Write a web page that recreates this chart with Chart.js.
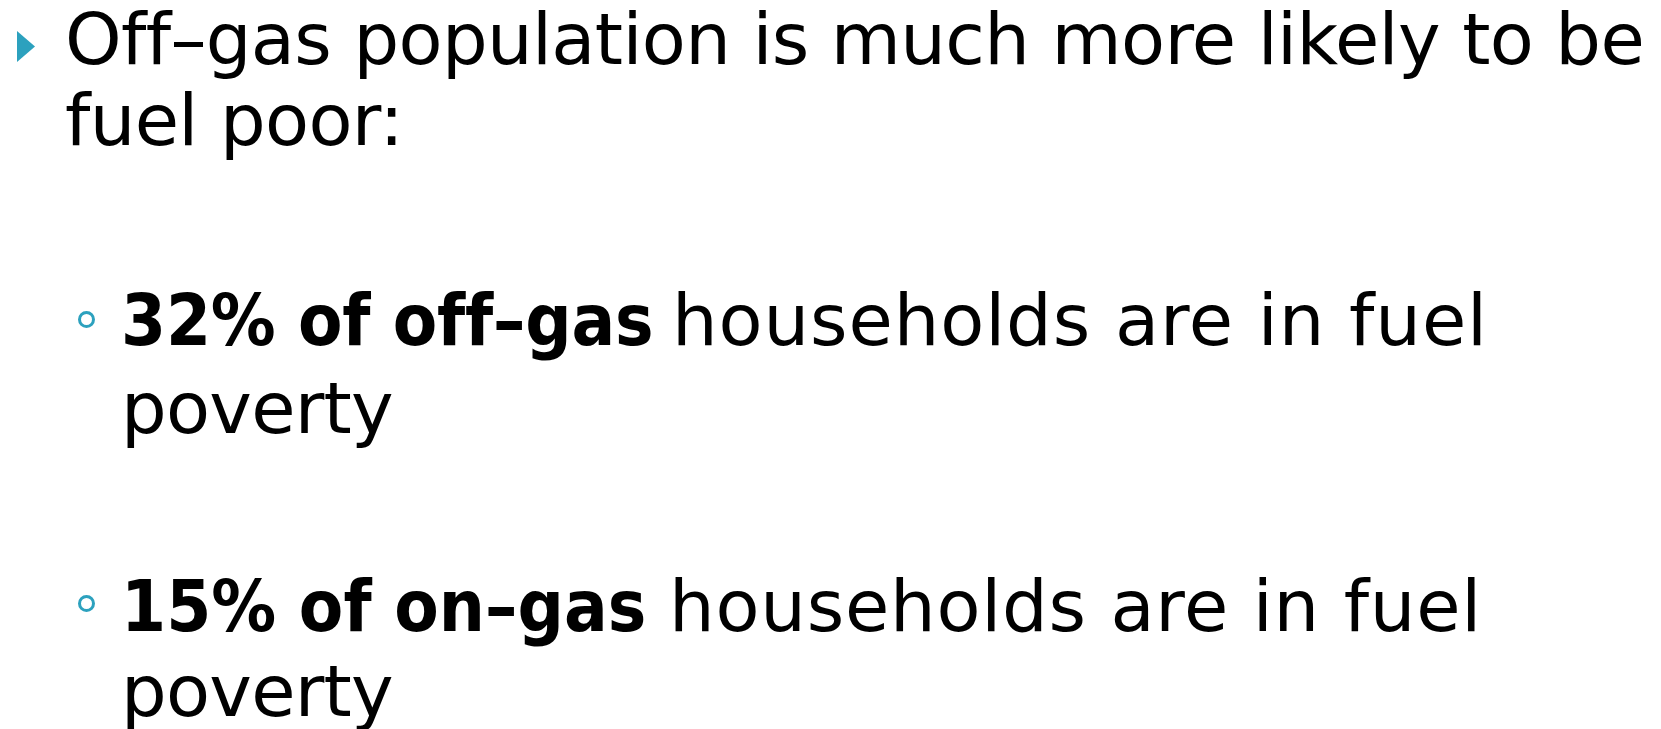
<!DOCTYPE html>
<html>
<head>
<meta charset="utf-8">
<script src="https://cdn.jsdelivr.net/npm/chart.js@4.4.1/dist/chart.umd.min.js"></script>
<style>
  html, body { margin: 0; padding: 0; background: #ffffff; width: 1661px; height: 729px; overflow: hidden; }
  #slide { position: relative; width: 1661px; height: 729px; font-family: "DejaVu Sans", sans-serif; color: #000; }
  .seg { position: absolute; white-space: pre; font-size: 72px; line-height: 1; }
  .seg.b { font-family: "DejaVu Sans Condensed", "DejaVu Sans", sans-serif; font-stretch: semi-condensed; font-weight: 700; }
  .mark { display: inline-block; width: 0; height: 0; vertical-align: baseline; }
  .tri { position: absolute; background: #2CA1BE; clip-path: polygon(0 0, 100% 50%, 0 100%); }
  .ring { position: absolute; box-sizing: border-box; border: 3px solid #2CA1BE; border-radius: 50%; }
  #chartBox { position: absolute; left: 0; top: 0; width: 20px; height: 20px; visibility: hidden; }
</style>
</head>
<body>
<div id="slide">
  <div id="chartBox"><canvas id="chart" width="20" height="20"></canvas></div>
</div>
<script>
// ---- data ----
const categories = ["off–gas", "on–gas"];
const fuelPovertyPct = [32, 15];
const headingLines = ["Off–gas population is much more likely to be", "fuel poor:"];
const tailText = "households are in fuel";
const tailLine2 = "poverty";

// ---- Chart.js instance holding the values (the slide itself is text only) ----
new Chart(document.getElementById("chart"), {
  type: "bar",
  data: { labels: categories, datasets: [{ data: fuelPovertyPct, backgroundColor: "#2CA1BE" }] },
  options: { responsive: false, animation: false, plugins: { legend: { display: false }, tooltip: { enabled: false } } }
});

// ---- slide layout ----
const slide = document.getElementById("slide");
const segs = [
  { t: headingLines[0], b: false, left: 65, base: 64, fit: 1578, key: "h" },
  { t: headingLines[1], b: false, left: 65, base: 145, use: "h" },
  { t: fuelPovertyPct[0] + "% of " + categories[0] + " ", b: true, left: 121, base: 345, fit: 551 },
  { t: tailText, b: false, left: 672, base: 345, fit: 816 },
  { t: tailLine2, b: false, left: 121, base: 433, fit: 272 },
  { t: fuelPovertyPct[1] + "% of " + categories[1] + " ", b: true, left: 121, base: 631, fit: 548 },
  { t: tailText, b: false, left: 669, base: 631, fit: 813 },
  { t: tailLine2, b: false, left: 121, base: 716, fit: 272 }
];
const spacing = {};
const els = segs.map(s => {
  const d = document.createElement("span");
  d.className = "seg" + (s.b ? " b" : "");
  d.textContent = s.t;
  const m = document.createElement("span");
  m.className = "mark";
  d.appendChild(m);
  d.style.left = s.left + "px";
  d.style.top = "0px";
  slide.appendChild(d);
  return d;
});
segs.forEach((s, i) => {
  if (s.fit) {
    const w = els[i].getBoundingClientRect().width;
    s.ls = (s.fit - w) / s.t.length;
    if (s.key) spacing[s.key] = s.ls;
  }
});
segs.forEach((s, i) => {
  const d = els[i];
  d.style.letterSpacing = (s.fit ? s.ls : spacing[s.use]) + "px";
  const b = d.querySelector(".mark").getBoundingClientRect().top;
  d.style.top = (s.base - b) + "px";
});

// bullets
const tri = document.createElement("div");
tri.className = "tri";
Object.assign(tri.style, { left: "17px", top: "31px", width: "18px", height: "31px" });
slide.appendChild(tri);
[319, 603].forEach(cy => {
  const r = document.createElement("div");
  r.className = "ring";
  Object.assign(r.style, { left: (86.5 - 8.5) + "px", top: (cy - 8.5) + "px", width: "17px", height: "17px" });
  slide.appendChild(r);
});
</script>
</body>
</html>
